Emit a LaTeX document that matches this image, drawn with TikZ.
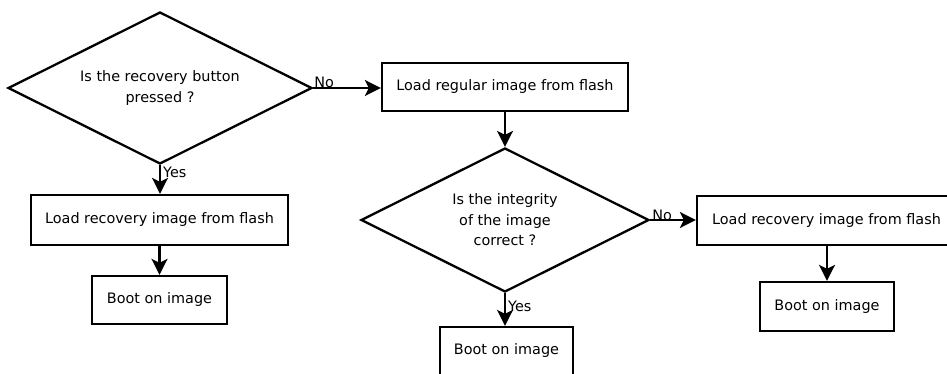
\documentclass[tikz,border=0pt]{standalone}
\usepackage{fontspec}
\setmainfont{DejaVu Sans}
\usetikzlibrary{shapes.geometric,arrows.meta}
\begin{document}
\begin{tikzpicture}[x=1pt,y=-1pt,
  font=\fontsize{14.4}{20.5}\selectfont,
  every node/.style={text=black},
  dia/.style={draw=black, diamond, aspect=2, inner sep=0pt, line width=2.3pt, align=center},
  procbox/.style={draw=black, rectangle, inner sep=0pt, line width=2.3pt, align=center},
  lbl/.style={inner sep=0pt},
  flow/.style={line width=2.3pt, -{Stealth[length=16pt,width=16pt,inset=4pt]}}
]
\useasboundingbox (0,0) rectangle (947,374);

\node[dia, minimum width=304pt, minimum height=152pt] (d1) at (160,88) {Is the recovery button\\pressed ?};
\node[procbox, minimum width=246pt, minimum height=48pt] (b1) at (505,87) {Load regular image from flash};
\node[procbox, minimum width=257pt, minimum height=50pt] (b2) at (159.5,220) {Load recovery image from flash};
\node[procbox, minimum width=135pt, minimum height=48pt] (b3) at (159.5,300) {Boot on image};
\node[dia, minimum width=288pt, minimum height=144pt] (d2) at (505,220) {Is the integrity\\of the image\\correct ?};
\node[procbox, minimum width=259pt, minimum height=49pt] (b4) at (826.5,220.5) {Load recovery image from flash};
\node[procbox, minimum width=134pt, minimum height=49pt] (b5) at (827,306.5) {Boot on image};
\node[procbox, minimum width=133pt, minimum height=48pt] (b6) at (506.5,351) {Boot on image};

\draw[flow] (d1.east) -- (d1.east -| b1.west);
\draw[flow] (b1.south) -- (d2.north);
\draw[flow] (d1.south) -- (d1.south |- b2.north);
\draw[flow] (b2.south) -- (b3.north);
\draw[flow] (d2.east) -- (d2.east -| b4.west);
\draw[flow] (b4.south -| b5.north) -- (b5.north);
\draw[flow] (d2.south) -- (d2.south |- b6.north);

\node[lbl, anchor=base west] (no1) at ([xshift=1pt]d1.east) {No};
\node[lbl, anchor=base west] (no2) at ([xshift=2pt]d2.east) {No};
\node[lbl, anchor=base west] (yes1) at ([xshift=3pt,yshift=-12pt]d1.south) {Yes};
\node[lbl, anchor=base west] (yes2) at ([xshift=3pt,yshift=-18pt]d2.south) {Yes};
\end{tikzpicture}
\end{document}
